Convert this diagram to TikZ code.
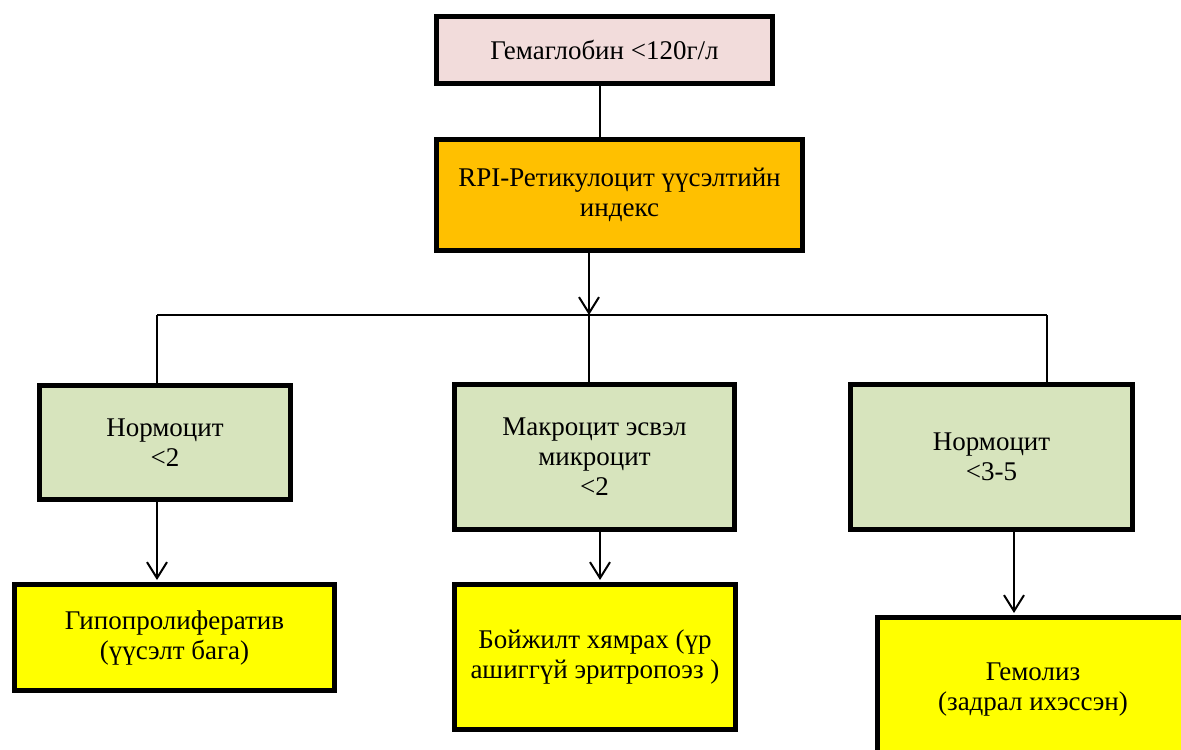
\documentclass[tikz,border=0pt]{standalone}
\usepackage{fontspec}
\setmainfont{Liberation Serif}
\usepackage{tikz}
\usetikzlibrary{arrows.meta}
\definecolor{hbpink}{HTML}{F2DCDB}
\definecolor{rpiorange}{HTML}{FFC000}
\definecolor{cellgreen}{HTML}{D7E4BD}
\definecolor{resyellow}{HTML}{FFFF00}
\tikzstyle{box} = [rectangle, draw=black, line width=2.5pt, inner sep=0pt, text centered, align=center, font=\fontsize{13.5}{15}\selectfont]
\tikzstyle{hbbox} = [box, fill=hbpink, minimum width=168pt, minimum height=33.5pt]
\tikzstyle{rpibox} = [box, fill=rpiorange, minimum width=183pt, minimum height=55.5pt]
\tikzstyle{cellbox} = [box, fill=cellgreen, minimum height=72.5pt]
\tikzstyle{resbox} = [box, fill=resyellow, minimum height=72.5pt]
\tikzstyle{link} = [line width=1pt]
\tikzstyle{arrow} = [line width=1pt,->,>={Straight Barb[length=8pt,width=10pt,line width=1pt]}]

\begin{document}
\begin{tikzpicture}[x=0.5pt, y=-0.5pt]
\clip (0,0) rectangle (1181,749);
\node (hb) [hbbox] at (604.5,50) {Гемаглобин <120г/л};
\node (rpi) [rpibox] at (619.5,195) {RPI-Ретикулоцит үүсэлтийн\\индекс};
\node (norm1) [cellbox, minimum width=125.5pt, minimum height=57pt] at (165,442.5) {Нормоцит\\<2};
\node (macro) [cellbox, minimum width=140pt] at (594.5,457) {Макроцит эсвэл\\микроцит\\<2};
\node (norm2) [cellbox, minimum width=141pt] at (991.5,457) {Нормоцит\\<3-5};
\node (hypo) [resbox, minimum width=160pt, minimum height=53pt] at (174.5,637.5) {Гипопролифератив\\(үүсэлт бага)};
\node (ineff) [resbox, minimum width=140.5pt] at (595,657) {Бойжилт хямрах (үр\\ашиггүй эритропоэз )};
\node (hemol) [resbox, minimum width=155.5pt] at (1033,690) {Гемолиз\\(задрал ихэссэн)};
% connectors
\coordinate (top) at (600,0);
\coordinate (bus) at (589,315);
\coordinate (busl) at (157,315);
\coordinate (busr) at (1047,315);
\coordinate (mid) at (600,0);
\coordinate (right) at (1014,0);
\draw [link] (hb.south -| top) -- (rpi.north -| top);
\draw [arrow] (rpi.south -| bus) -- (bus);
\draw [link] (busl) -- (busr);
\draw [link] (busl) -- (norm1.north -| busl);
\draw [link] (bus) -- (macro.north -| bus);
\draw [link] (busr) -- (norm2.north -| busr);
\draw [arrow, shorten >=1pt] (norm1.south -| busl) -- (hypo.north -| busl);
\draw [arrow, shorten >=1pt] (macro.south -| mid) -- (ineff.north -| mid);
\draw [arrow, shorten >=1pt] (norm2.south -| right) -- (hemol.north -| right);
\end{tikzpicture}
\end{document}
